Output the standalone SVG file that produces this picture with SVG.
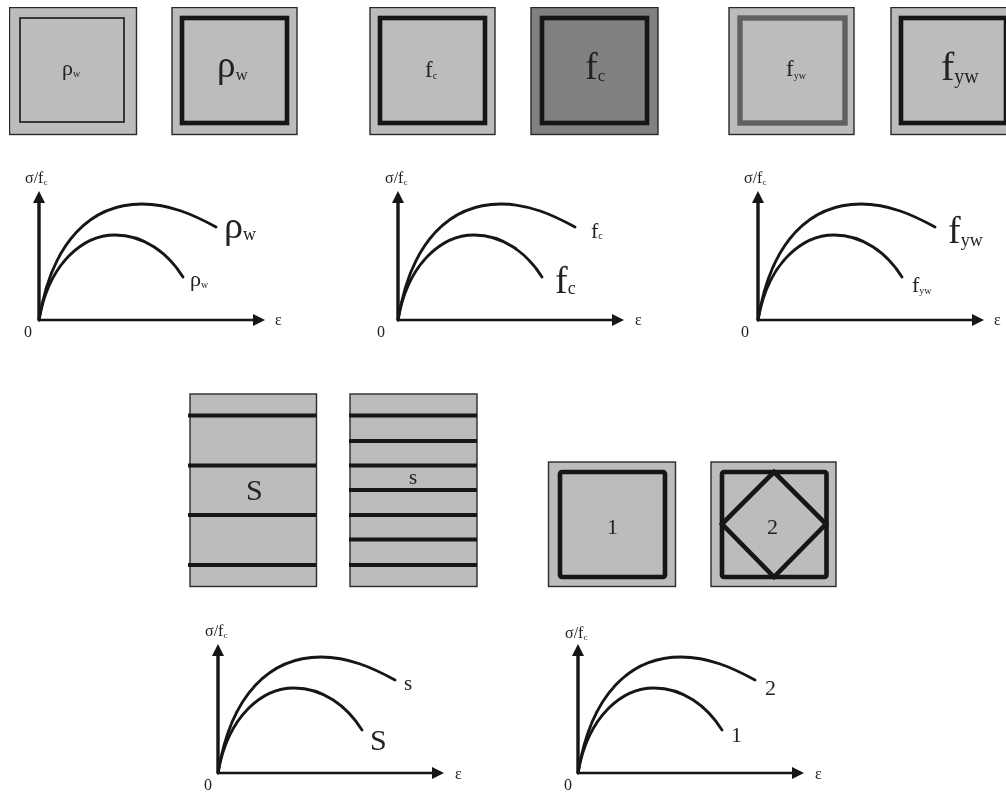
<svg xmlns="http://www.w3.org/2000/svg" width="1006" height="794" viewBox="0 0 1006 794">
<style>
.o{fill:#bdbbbc;stroke:#2a2a2a;stroke-width:1.4}
.d{fill:#828180}
.i{fill:none;stroke:#141212;stroke-width:4.6}
.t{fill:none;stroke:#2a2a2a;stroke-width:1.8}
.g{stroke:#636161;stroke-width:5.4}
.r{stroke:#141212;stroke-width:4}
.c{fill:none;stroke:#141414;stroke-width:2.8;stroke-linecap:round}
.a{fill:none;stroke:#141414}
text{font-family:"Liberation Serif","Times New Roman",serif;fill:#222}
.l{font-size:16px}
.h{fill:#141414}
</style>
<defs>
<filter id="soft" x="0" y="0" width="100%" height="100%"><feGaussianBlur stdDeviation="0.45"/></filter>
<g id="chart">
<path class="a" stroke-width="3.4" d="M39 320V200"/>
<path class="a" stroke-width="2.4" d="M39 320H256"/>
<path class="h" d="M39 191L45 203H33Z"/>
<path class="h" d="M265 320L253 314V326Z"/>
<path class="c" d="M39 320C52 240 92 204 142 204C170 204 194 215 216 227"/>
<path class="c" d="M39 320C49 262 84 235 115 235C144 235 168 253 183 277"/>
</g>
</defs>
<rect width="1006" height="794" fill="#fff"/>
<g filter="url(#soft)">
<g id="square-rho-small"><rect class="o" x="9.5" y="7.5" width="127" height="127"/><rect class="t" x="20" y="18" width="104" height="104"/><text x="62" y="75" font-size="22">ρ<tspan font-size="10" dy="2">w</tspan></text></g>
<g id="square-rho-large"><rect class="o" x="172" y="7.500" width="125" height="127"/><rect class="i" x="182" y="18" width="105" height="105"/><text x="217" y="77" font-size="37">ρ<tspan font-size="17" dy="3">w</tspan></text></g>
<g id="square-fc-small"><rect class="o" x="370" y="7.500" width="125" height="127"/><rect class="i" x="380" y="18" width="105" height="105"/><text x="425" y="77" font-size="23">f<tspan font-size="10" dy="2">c</tspan></text></g>
<g id="square-fc-large"><rect class="o d" x="531" y="7.500" width="127" height="127"/><rect class="i" x="542" y="18" width="105" height="105"/><text x="585" y="79" font-size="38">f<tspan font-size="17" dy="2">c</tspan></text></g>
<g id="square-fyw-small"><rect class="o" x="729" y="7.500" width="125" height="127"/><rect class="i g" x="740" y="18" width="105" height="105"/><text x="786" y="76" font-size="23">f<tspan font-size="10" dy="3">yw</tspan></text></g>
<g id="square-fyw-large"><rect class="o" x="891" y="7.500" width="125" height="127"/><rect class="i" x="901" y="18" width="105" height="105"/><text x="941" y="80" font-size="40">f<tspan font-size="20" dy="3">yw</tspan></text></g>

<g id="column-s-large"><rect class="o" x="190" y="394" width="126.500" height="192.500"/><path class="r" d="M188 415.500H316M188 465.500H316M188 515H316M188 565H316"/><text x="246" y="500" font-size="30">S</text></g>
<g id="column-s-small"><rect class="o" x="350" y="394" width="127" height="192.500"/><path class="r" d="M349 415.500H477M349 441H477M349 465.500H477M349 490H477M349 515H477M349 539.500H477M349 565H477"/><text x="409" y="484" font-size="21">s</text></g>
<g id="square-tie-1"><rect class="o" x="548.500" y="462" width="127" height="124.500"/><rect class="i" x="560" y="472" width="105" height="105" rx="2"/><text x="607" y="534" font-size="22">1</text></g>
<g id="square-tie-2"><rect class="o" x="711" y="462" width="125" height="124.500"/><rect class="i" x="722" y="472" width="104.500" height="105" rx="2"/><path class="i" d="M774 472L826 524L774 577L722 524Z"/><text x="767" y="534" font-size="22">2</text></g>

<g id="connectors">
<use href="#chart"/>
<use href="#chart" x="359"/>
<use href="#chart" x="719"/>
<use href="#chart" x="179" y="453"/>
<use href="#chart" x="539" y="453"/>
</g>

<g id="chart-labels-rho">
<text x="25" y="183" class="l">σ/f<tspan font-size="9" dy="2">c</tspan></text>
<text x="24" y="337" class="l">0</text>
<text x="275" y="325" class="l">ε</text>
<text x="224" y="238" font-size="38">ρ<tspan font-size="18" dy="2">w</tspan></text>
<text x="190" y="286" font-size="22">ρ<tspan font-size="10" dy="2">w</tspan></text>
</g>
<g id="chart-labels-fc">
<text x="385" y="183" class="l">σ/f<tspan font-size="9" dy="2">c</tspan></text>
<text x="377" y="337" class="l">0</text>
<text x="635" y="325" class="l">ε</text>
<text x="591" y="238" font-size="22">f<tspan font-size="10" dy="1">c</tspan></text>
<text x="555" y="293" font-size="38">f<tspan font-size="18" dy="1">c</tspan></text>
</g>
<g id="chart-labels-fyw">
<text x="744" y="183" class="l">σ/f<tspan font-size="9" dy="2">c</tspan></text>
<text x="741" y="337" class="l">0</text>
<text x="994" y="325" class="l">ε</text>
<text x="948" y="243" font-size="38">f<tspan font-size="18" dy="3">yw</tspan></text>
<text x="912" y="292" font-size="22">f<tspan font-size="10" dy="2">yw</tspan></text>
</g>
<g id="chart-labels-s">
<text x="205" y="636" class="l">σ/f<tspan font-size="9" dy="2">c</tspan></text>
<text x="204" y="790" class="l">0</text>
<text x="455" y="779" class="l">ε</text>
<text x="404" y="690" font-size="21">s</text>
<text x="370" y="750" font-size="30">S</text>
</g>
<g id="chart-labels-tie">
<text x="565" y="638" class="l">σ/f<tspan font-size="9" dy="2">c</tspan></text>
<text x="564" y="790" class="l">0</text>
<text x="815" y="779" class="l">ε</text>
<text x="765" y="695" font-size="22">2</text>
<text x="731" y="742" font-size="22">1</text>
</g>
</g>
</svg>
